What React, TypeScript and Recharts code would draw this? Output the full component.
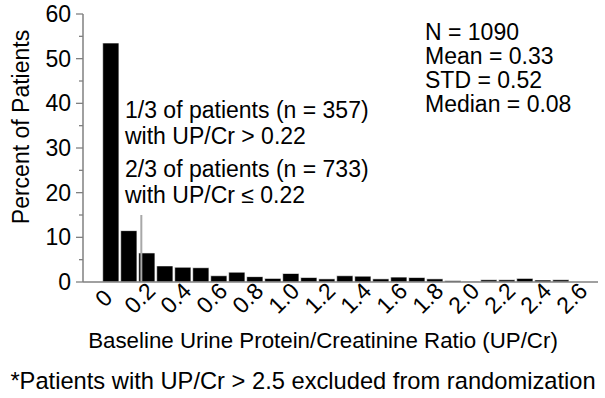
import React from "react";
import {
  ComposedChart,
  Bar,
  XAxis,
  YAxis,
  ReferenceLine,
} from "recharts";

// Bin lower bounds (width 0.1) and percent of patients in each bin
const binStarts = [
  0, 0.1, 0.2, 0.3, 0.4, 0.5, 0.6, 0.7, 0.8, 0.9, 1.0, 1.1, 1.2, 1.3, 1.4, 1.5,
  1.6, 1.7, 1.8, 1.9, 2.0, 2.1, 2.2, 2.3, 2.4, 2.5,
];
const percents = [
  53.5, 11.5, 6.5, 3.6, 3.3, 3.2, 1.4, 2.2, 1.2, 0.8, 1.9, 1.0, 0.7, 1.4, 1.3,
  0.7, 1.1, 1.0, 0.7, 0.3, 0.1, 0.5, 0.5, 0.8, 0.45, 0.5,
];
const xTicks = [0, 0.2, 0.4, 0.6, 0.8, 1.0, 1.2, 1.4, 1.6, 1.8, 2.0, 2.2, 2.4, 2.6];
const yTicks = [0, 5, 10, 15, 20, 25, 30, 35, 40, 45, 50, 55, 60];
const cutoff = 0.22;
const cutoffLineTop = 15;

const statsLines = ["N = 1090", "Mean = 0.33", "STD = 0.52", "Median = 0.08"];
const upperNote = ["1/3 of patients (n = 357)", "with UP/Cr > 0.22"];
const lowerNote = ["2/3 of patients (n = 733)", "with UP/Cr \u2264 0.22"];

const BIN = 0.1;
const data = binStarts.map((s, i) => ({ mid: s + BIN / 2, pct: percents[i] }));

const FONT = '"Liberation Sans", Arial, Helvetica, sans-serif';
const AXIS = "#808080";
const X_DOMAIN: [number, number] = [-0.104, 2.757];
const PLOT_W = 515;
const BAR_PX = (PLOT_W / (X_DOMAIN[1] - X_DOMAIN[0])) * BIN;

const YTick = (props: any) => {
  const { x, y, payload } = props;
  const v = payload.value as number;
  const major = v % 10 === 0;
  return (
    <g>
      <line x1={x - (major ? 7 : 4)} x2={x} y1={y} y2={y} stroke={AXIS} strokeWidth={1.3} />
      {major && (
        <text
          x={x - 12}
          y={y}
          textAnchor="end"
          dominantBaseline="central"
          fontFamily={FONT}
          fontSize={23}
          fill="#000"
        >
          {v}
        </text>
      )}
    </g>
  );
};

const XTick = (props: any) => {
  const { x, y, payload } = props;
  const v = payload.value as number;
  const label = v === 0 ? "0" : v.toFixed(1);
  const cx = x + 2;
  const cy = y + 16;
  return (
    <text
      x={cx}
      y={cy}
      textAnchor="middle"
      dominantBaseline="central"
      transform={`rotate(-45 ${cx} ${cy})`}
      fontFamily={FONT}
      fontSize={23}
      fill="#000"
    >
      {label}
    </text>
  );
};

const textStyle: React.CSSProperties = {
  position: "absolute",
  fontFamily: FONT,
  color: "#000",
  whiteSpace: "nowrap",
};

export default function App() {
  return (
    <div style={{ position: "absolute", left: 0, top: 0, width: 605, height: 398, background: "#fff" }}>
      <ComposedChart
        width={605}
        height={398}
        data={data}
        margin={{ top: 14, right: 7, bottom: 76, left: 0 }}
      >
        <XAxis
          xAxisId="x"
          dataKey="mid"
          type="number"
          domain={X_DOMAIN}
          allowDataOverflow
          ticks={xTicks}
          interval={0}
          tickLine={false}
          tickSize={0}
          tickMargin={0}
          tick={<XTick />}
          height={40}
          axisLine={{ stroke: AXIS, strokeWidth: 1.5 }}
        />
        <XAxis
          xAxisId="top"
          orientation="top"
          type="number"
          domain={X_DOMAIN}
          allowDataOverflow
          tick={false}
          tickLine={false}
          height={0}
          axisLine={{ stroke: AXIS, strokeWidth: 1.5 }}
        />
        <YAxis
          yAxisId="y"
          type="number"
          domain={[0, 60]}
          allowDataOverflow
          ticks={yTicks}
          interval={0}
          tickLine={false}
          tickSize={0}
          tickMargin={0}
          tick={<YTick />}
          width={83}
          axisLine={{ stroke: AXIS, strokeWidth: 1.5 }}
        />
        <YAxis
          yAxisId="right"
          orientation="right"
          type="number"
          domain={[0, 60]}
          tick={false}
          tickLine={false}
          width={0}
          axisLine={{ stroke: AXIS, strokeWidth: 1.5 }}
        />
        <Bar
          xAxisId="x"
          yAxisId="y"
          dataKey="pct"
          fill="#000"
          stroke="#fff"
          strokeWidth={0.6}
          barSize={BAR_PX}
          isAnimationActive={false}
        />
        <ReferenceLine
          xAxisId="x"
          yAxisId="y"
          segment={[
            { x: cutoff, y: 0 },
            { x: cutoff, y: cutoffLineTop },
          ]}
          stroke="#a8a8a8"
          strokeWidth={2}
        />
      </ComposedChart>

      <div
        style={{
          ...textStyle,
          fontSize: 23,
          left: 21,
          top: 127,
          transform: "translate(-50%, -50%) rotate(-90deg)",
        }}
      >
        Percent of Patients
      </div>

      <div style={{ ...textStyle, fontSize: 23, lineHeight: "24px", left: 425, top: 20 }}>
        {statsLines.map((l) => (
          <div key={l}>{l}</div>
        ))}
      </div>

      <div style={{ ...textStyle, fontSize: 23, lineHeight: "26px", left: 125, top: 97 }}>
        {upperNote.map((l) => (
          <div key={l}>{l}</div>
        ))}
      </div>
      <div style={{ ...textStyle, fontSize: 23, lineHeight: "26px", left: 125, top: 156 }}>
        {lowerNote.map((l) => (
          <div key={l}>{l}</div>
        ))}
      </div>

      <div
        style={{
          ...textStyle,
          fontSize: 22.3,
          left: 323,
          top: 328,
          transform: "translateX(-50%)",
        }}
      >
        Baseline Urine Protein/Creatinine Ratio (UP/Cr)
      </div>
      <div
        style={{
          ...textStyle,
          fontSize: 23.7,
          left: 303,
          top: 368,
          transform: "translateX(-50%)",
        }}
      >
        *Patients with UP/Cr &gt; 2.5 excluded from randomization
      </div>
    </div>
  );
}
